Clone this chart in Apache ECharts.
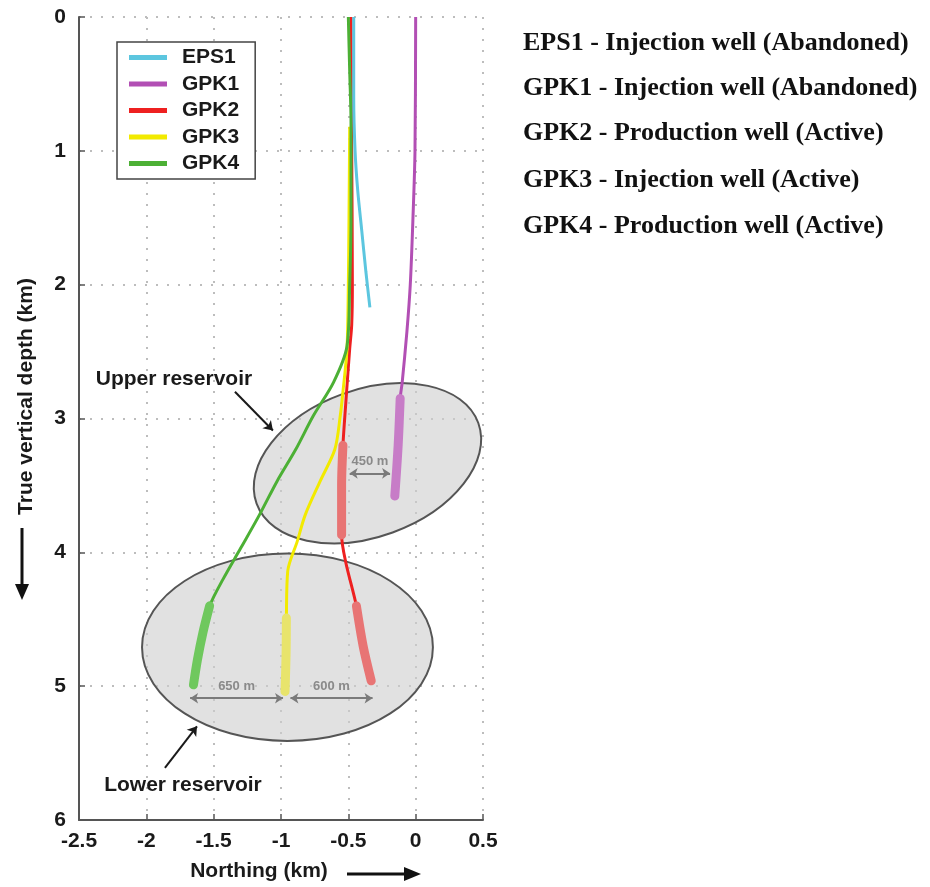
<!DOCTYPE html>
<html>
<head>
<meta charset="utf-8">
<script src="https://cdn.jsdelivr.net/npm/echarts@6/dist/echarts.min.js"></script>
<style>
  html, body { margin: 0; padding: 0; background: #fff; }
  #chart { width: 930px; height: 887px; }
</style>
</head>
<body>
<div id="chart"></div>
<script>
// well trajectories, [northing km, depth km]
const eps1 = [[-0.46, 0], [-0.46, 0.6], [-0.45, 1.0], [-0.43, 1.3], [-0.40, 1.6], [-0.37, 1.9], [-0.34, 2.17]];
const gpk1 = [[0, 0], [-0.005, 1.0], [-0.02, 1.5], [-0.04, 2.0], [-0.065, 2.35], [-0.10, 2.73], [-0.115, 2.85], [-0.13, 3.2], [-0.155, 3.58]];
const gpk2 = [[-0.48, 0], [-0.475, 1.0], [-0.47, 2.0], [-0.475, 2.3], [-0.49, 2.48], [-0.52, 2.9], [-0.54, 3.2], [-0.55, 3.5], [-0.55, 3.87], [-0.52, 4.07], [-0.44, 4.4], [-0.39, 4.7], [-0.33, 4.96]];
const gpk3 = [[-0.49, 0.82], [-0.495, 1.5], [-0.50, 2.0], [-0.51, 2.48], [-0.54, 2.8], [-0.56, 2.98], [-0.60, 3.23], [-0.71, 3.47], [-0.82, 3.72], [-0.88, 3.92], [-0.95, 4.14], [-0.96, 4.49], [-0.962, 4.75], [-0.97, 5.04]];
const gpk4 = [[-0.50, 0], [-0.49, 0.4], [-0.48, 0.8], [-0.48, 1.5], [-0.49, 2.0], [-0.51, 2.46], [-0.61, 2.73], [-0.76, 2.98], [-0.89, 3.23], [-1.03, 3.47], [-1.16, 3.72], [-1.30, 3.97], [-1.43, 4.20], [-1.53, 4.40], [-1.58, 4.6], [-1.62, 4.8], [-1.65, 4.99]];

// open-hole (reservoir) sections
const gpk1Open = [[-0.115, 2.85], [-0.13, 3.2], [-0.155, 3.58]];
const gpk2OpenUpper = [[-0.54, 3.2], [-0.55, 3.5], [-0.55, 3.87]];
const gpk2OpenLower = [[-0.44, 4.4], [-0.39, 4.7], [-0.33, 4.96]];
const gpk3Open = [[-0.96, 4.49], [-0.962, 4.75], [-0.97, 5.04]];
const gpk4Open = [[-1.53, 4.40], [-1.58, 4.6], [-1.62, 4.8], [-1.65, 4.99]];

const wellNames = ['EPS1', 'GPK1', 'GPK2', 'GPK3', 'GPK4'];
const wellColors = ['#5cc6df', '#b24fb4', '#ee2020', '#f2ea00', '#4cb035'];
const openColors = ['#5cc6df', '#c77cc7', '#e87474', '#e8e46c', '#6fc85e'];
const wellNotes = [
  'EPS1 - Injection well (Abandoned)',
  'GPK1 - Injection well (Abandoned)',
  'GPK2 - Production well (Active)',
  'GPK3 - Injection well (Active)',
  'GPK4 - Production well (Active)'
];

// reservoirs: [center x, center y, semi-axis x, semi-axis y, tilt deg]
const reservoirs = [[-0.358, 3.335, 0.876, 0.55, 20], [-0.952, 4.709, 1.08, 0.70, 0]];
const spacings = [
  { name: '450 m', coords: [[-0.49, 3.41], [-0.19, 3.41]] },
  { name: '650 m', coords: [[-1.675, 5.09], [-0.985, 5.09]] },
  { name: '600 m', coords: [[-0.93, 5.09], [-0.32, 5.09]] }
];
const reservoirLabels = [[-1.795, 2.705, 'Upper reservoir'], [-1.728, 5.74, 'Lower reservoir']];
const reservoirPointers = [
  { coords: [[-1.342, 2.80], [-1.06, 3.09]] },
  { coords: [[-1.862, 5.61], [-1.624, 5.30]] }
];

const xTickLabels = ['-2.5', '-2', '-1.5', '-1', '-0.5', '0', '0.5'];
const yTickLabels = ['0', '1', '2', '3', '4', '5', '6'];

const sans = '"Liberation Sans", Arial, sans-serif';
const chart = echarts.init(document.getElementById('chart'), null, { renderer: 'canvas' });

function wellLine(name, data, color, z) {
  return {
    name: name, type: 'line', data: data, color: color, z: z,
    showSymbol: false, symbol: 'none', smooth: 0.3,
    lineStyle: { width: 3, color: color }
  };
}
function openHole(name, data, color) {
  return {
    name: name, type: 'line', data: data, z: 4,
    showSymbol: false, symbol: 'none', smooth: 0.3,
    lineStyle: { width: 9, color: color, cap: 'round' }
  };
}

const gridDots = { show: true, lineStyle: { color: '#bdbdbd', width: 2, type: [2, 9] } };

let option = {
  animation: false,
  backgroundColor: '#fff',
  grid: { left: 79, top: 17, width: 404, height: 805, containLabel: false },
  legend: {
    data: wellNames,
    orient: 'vertical',
    left: 117, top: 42,
    icon: 'rect', itemWidth: 38, itemHeight: 5, itemGap: 5.5,
    padding: [5, 16, 5, 12],
    borderColor: '#444', borderWidth: 1.5,
    backgroundColor: '#fff',
    textStyle: { fontFamily: sans, fontWeight: 'bold', fontSize: 21, color: '#1a1a1a', lineHeight: 21, padding: [0, 0, 0, 10] }
  },
  xAxis: {
    type: 'value', min: -2.5, max: 0.5, interval: 0.5,
    name: 'Northing (km)', nameLocation: 'middle', nameGap: 41,
    nameTextStyle: { fontFamily: sans, fontWeight: 'bold', fontSize: 21, color: '#1a1a1a', padding: [0, 44, 0, 0] },
    axisLine: { show: true, onZero: false, lineStyle: { color: '#555', width: 2 } },
    axisTick: { show: true, inside: true, length: 6, lineStyle: { color: '#555', width: 1.5 } },
    axisLabel: { margin: 11, fontFamily: sans, fontWeight: 'bold', fontSize: 21, color: '#1a1a1a',
      formatter: (v, i) => xTickLabels[i] },
    splitLine: gridDots
  },
  yAxis: {
    type: 'value', min: 0, max: 6, interval: 1, inverse: true,
    name: 'True vertical depth (km)', nameLocation: 'middle', nameGap: 42, nameRotate: 90,
    nameTextStyle: { fontFamily: sans, fontWeight: 'bold', fontSize: 21, color: '#1a1a1a', padding: [0, 0, 0, 44] },
    axisLine: { show: true, onZero: false, lineStyle: { color: '#555', width: 2 } },
    axisTick: { show: true, inside: true, length: 6, lineStyle: { color: '#555', width: 1.5 } },
    axisLabel: { margin: 13, fontFamily: sans, fontWeight: 'bold', fontSize: 21, color: '#1a1a1a',
      formatter: (v, i) => yTickLabels[i] },
    splitLine: gridDots
  },
  series: [
    {
      name: 'reservoirs', type: 'custom', z: 1,
      data: reservoirs, encode: { x: 0, y: 1 },
      renderItem: function (params, api) {
        const c = api.coord([api.value(0), api.value(1)]);
        const s = api.size([api.value(2), api.value(3)]);
        return {
          type: 'ellipse', x: c[0], y: c[1],
          rotation: api.value(4) * Math.PI / 180,
          shape: { cx: 0, cy: 0, rx: s[0], ry: s[1] },
          style: { fill: 'rgba(205,205,205,0.6)', stroke: '#555', lineWidth: 2 }
        };
      }
    },
    wellLine('GPK2', gpk2, wellColors[2], 3),
    wellLine('GPK3', gpk3, wellColors[3], 3),
    wellLine('GPK4', gpk4, wellColors[4], 3),
    wellLine('EPS1', eps1, wellColors[0], 3),
    wellLine('GPK1', gpk1, wellColors[1], 3),
    openHole('GPK1 open hole', gpk1Open, openColors[1]),
    openHole('GPK2 open hole', gpk2OpenUpper, openColors[2]),
    openHole('GPK2 open hole lower', gpk2OpenLower, openColors[2]),
    openHole('GPK3 open hole', gpk3Open, openColors[3]),
    openHole('GPK4 open hole', gpk4Open, openColors[4]),
    {
      name: 'spacing', type: 'lines', coordinateSystem: 'cartesian2d', z: 6,
      data: spacings, symbol: ['arrow', 'arrow'], symbolSize: 8,
      lineStyle: { color: '#7a7a7a', width: 2, opacity: 1 },
      label: { show: true, position: 'middle', formatter: p => p.name, distance: 5,
        fontFamily: sans, fontWeight: 'bold', fontSize: 13, color: '#8a8a8a' }
    },
    {
      name: 'pointers', type: 'lines', coordinateSystem: 'cartesian2d', z: 6,
      data: reservoirPointers, symbol: ['none', 'arrow'], symbolSize: 9,
      lineStyle: { color: '#1a1a1a', width: 2, opacity: 1 }
    },
    {
      name: 'reservoir labels', type: 'custom', z: 6,
      data: reservoirLabels, encode: { x: 0, y: 1 },
      renderItem: function (params, api) {
        const c = api.coord([api.value(0), api.value(1)]);
        return {
          type: 'text', x: c[0], y: c[1],
          style: { text: reservoirLabels[params.dataIndex][2], font: 'bold 21px ' + sans,
            fill: '#1a1a1a', align: 'center', verticalAlign: 'middle' }
        };
      }
    }
  ],
  graphic: []
};

// arrows beside axis titles
option.graphic.push(
  { type: 'line', shape: { x1: 22, y1: 528, x2: 22, y2: 588 }, style: { stroke: '#111', lineWidth: 3 } },
  { type: 'polygon', shape: { points: [[15, 584], [29, 584], [22, 600]] }, style: { fill: '#111' } },
  { type: 'line', shape: { x1: 347, y1: 874, x2: 408, y2: 874 }, style: { stroke: '#111', lineWidth: 3 } },
  { type: 'polygon', shape: { points: [[404, 867], [404, 881], [421, 874]] }, style: { fill: '#111' } }
);

// well descriptions on the right
const noteTops = [43, 88, 133, 180, 226];
wellNotes.forEach(function (t, i) {
  option.graphic.push({
    type: 'text', x: 523, y: noteTops[i],
    style: { text: t, font: 'bold 26px "Liberation Serif", "Times New Roman", serif', fill: '#111', verticalAlign: 'middle' }
  });
});

chart.setOption(option);
</script>
</body>
</html>
